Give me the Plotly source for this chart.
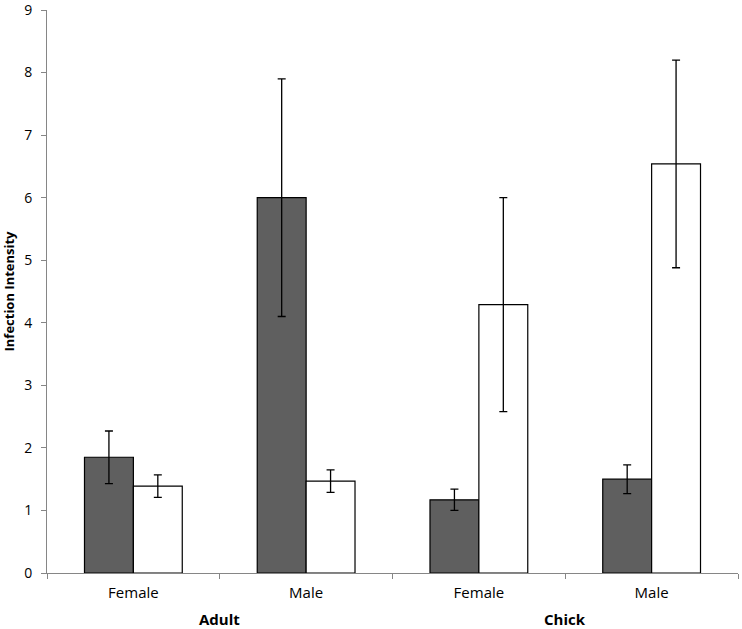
import plotly.graph_objects as go

# categories
groups = ["Adult", "Chick"]
age = ["Adult", "Adult", "Chick", "Chick"]
sex = ["Female", "Male", "Female", "Male"]
cats = [a + " " + s for a, s in zip(age, sex)]

# dark series
dark_vals = [1.85, 6.0, 1.17, 1.50]
dark_err = [0.42, 1.90, 0.17, 0.23]

# white series
white_vals = [1.39, 1.47, 4.29, 6.54]
white_err = [0.18, 0.18, 1.71, 1.66]

y_ticks = [0, 1, 2, 3, 4, 5, 6, 7, 8, 9]

fig = go.Figure()
fig.add_trace(go.Bar(
    x=cats, y=dark_vals, name="dark",
    marker=dict(color="#5f5f5f", line=dict(color="black", width=1.2)),
    error_y=dict(type="data", array=dark_err, color="black", thickness=1.3, width=4),
))
fig.add_trace(go.Bar(
    x=cats, y=white_vals, name="white",
    marker=dict(color="white", line=dict(color="black", width=1.2)),
    error_y=dict(type="data", array=white_err, color="black", thickness=1.3, width=4),
))

# outer group labels, centred under each pair of categories
for i, g in enumerate(groups):
    fig.add_annotation(
        x=2 * i + 0.5, xref="x", y=-0.082, yref="paper",
        text="<b>" + g + "</b>", showarrow=False,
        font=dict(size=15), xanchor="center", yanchor="middle",
    )

fig.update_layout(
    width=742, height=629,
    margin=dict(l=47, r=4, t=10, b=56),
    plot_bgcolor="white", paper_bgcolor="white",
    barmode="group", bargap=0.434, bargroupgap=0,
    showlegend=False,
    font=dict(family="Open Sans, Liberation Sans, sans-serif", size=14, color="black"),
)
fig.update_xaxes(
    tickvals=cats, ticktext=sex,
    showline=True, linecolor="#868686", linewidth=1,
    ticks="outside", tickson="boundaries", ticklen=5, tickcolor="#868686",
    tickfont=dict(size=15), ticklabelstandoff=6,
    showgrid=False, automargin=False,
)
fig.update_yaxes(
    range=[0, 9], tickvals=y_ticks,
    showline=True, linecolor="#868686", linewidth=1,
    ticks="outside", ticklen=5, tickcolor="#868686", ticklabelstandoff=6,
    ticklabeloverflow="allow",
    showgrid=False, zeroline=False, automargin=False,
    title=dict(text="<b>Infection Intensity</b>", font=dict(size=13), standoff=6),
)

# page body has a default 8px margin; drop it so the figure fills the window
fig.write_html("out.html", config={"displayModeBar": False},
               post_script="document.body.style.margin='0';")
